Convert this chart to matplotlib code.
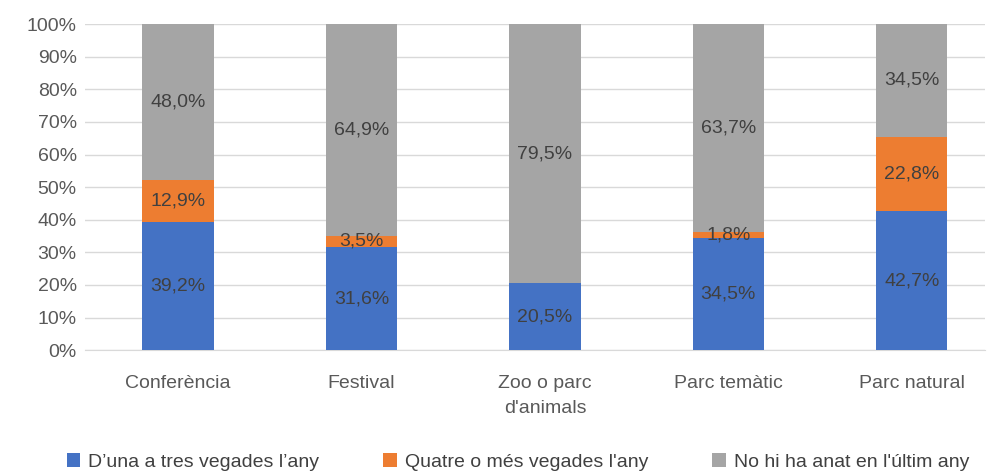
import matplotlib.pyplot as plt
import numpy as np

plt.rcParams['font.family'] = ['Liberation Sans', 'DejaVu Sans']

# data (percent)
categories = ['Conferència', 'Festival', 'Zoo o parc\nd\'animals', 'Parc temàtic', 'Parc natural']
una_tres = [39.2, 31.6, 20.5, 34.5, 42.7]
quatre_mes = [12.9, 3.5, 0.0, 1.8, 22.8]
no_anat = [48.0, 64.9, 79.5, 63.7, 34.5]
series_names = ["D\u2019una a tres vegades l\u2019any", "Quatre o més vegades l'any",
                "No hi ha anat en l'últim any"]
colors = ['#4472C4', '#ED7D31', '#A5A5A5']

fig = plt.figure(figsize=(9.9, 4.72), dpi=100)
ax = fig.add_axes([0.086, 0.258, 0.909, 0.691])

x = np.arange(len(categories))
bottom = np.zeros(len(categories))
for vals, name, col in zip([una_tres, quatre_mes, no_anat], series_names, colors):
    vals = np.array(vals)
    ax.bar(x, vals, width=0.39, bottom=bottom, color=col, label=name, zorder=3)
    for xi, b, v in zip(x, bottom, vals):
        if v > 0:
            ax.text(xi, b + v / 2, f'{v:.1f}%'.replace('.', ','), ha='center', va='center',
                    fontsize=14, color='#404040', zorder=4)
    bottom = bottom + vals

ax.set_ylim(0, 100)
ax.set_xlim(-0.507, 4.40)
ax.set_yticks(np.arange(0, 101, 10))
ax.set_yticklabels([f'{t}%' for t in range(0, 101, 10)])
ax.set_xticks(x)
ax.set_xticklabels(categories, linespacing=1.6)
ax.tick_params(axis='both', length=0, labelsize=14, colors='#595959', pad=6)
ax.tick_params(axis='x', pad=18)
ax.grid(axis='y', color='#D9D9D9', linewidth=1, zorder=0)
for s in ['top', 'right', 'left']:
    ax.spines[s].set_visible(False)
ax.spines['bottom'].set_color('#D9D9D9')

fig.legend(loc='lower center', bbox_to_anchor=(0.523, -0.035), ncol=3, frameon=False,
           fontsize=14, handlelength=0.7, handleheight=0.7, handletextpad=0.4,
           columnspacing=3.3, labelcolor='#404040')

fig.savefig('out.png', dpi=100)
